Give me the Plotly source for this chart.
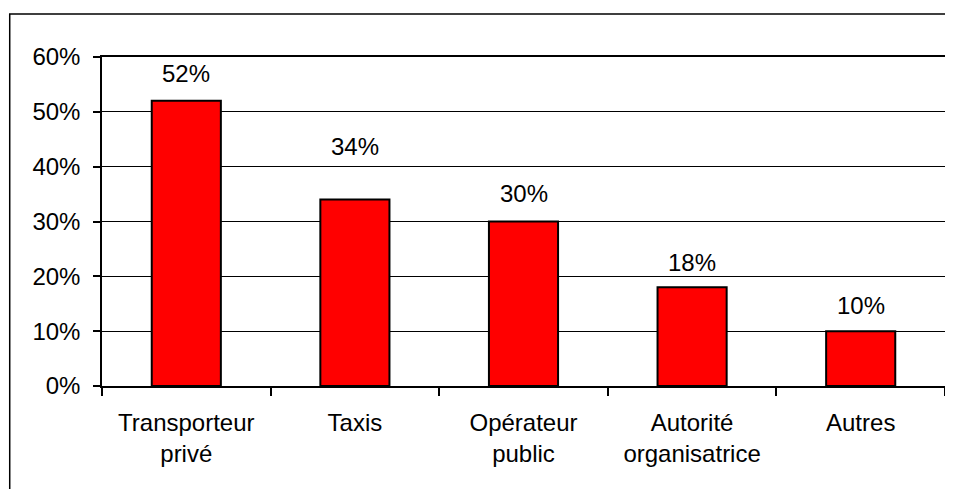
import plotly.graph_objects as go

categories = ["Transporteur<br>privé", "Taxis", "Opérateur<br>public", "Autorité<br>organisatrice", "Autres"]
values = [0.52, 0.34, 0.30, 0.18, 0.10]
value_labels = ["52%", "34%", "30%", "18%", "10%"]
y_tickvals = [0, 0.1, 0.2, 0.3, 0.4, 0.5, 0.6]
y_ticktext = ["0%", "10%", "20%", "30%", "40%", "50%", "60%"]

FONT = "Liberation Sans, Arial, sans-serif"
FS = 24

# vertical offset (px) of each value label above its bar top
label_shift = [27, 53, 28, 25, 26]

fig = go.Figure()
fig.add_trace(go.Bar(
    x=categories, y=values,
    marker=dict(color="#FF0000", line=dict(color="#000000", width=2)),
    hoverinfo="skip",
))

for c, v, t, s in zip(categories, values, value_labels, label_shift):
    fig.add_annotation(x=c, y=v, text=t, showarrow=False, xref="x", yref="y",
                       yanchor="middle", yshift=s,
                       font=dict(family=FONT, size=FS, color="#000000"))

# page body has an 8px margin, so the figure is sized to fill the window exactly
W, H = 945, 481
L, R, T, B = 94, 6, 49, 103
pw, ph = W - L - R, H - T - B

def px_to_paper_x(px):
    return (px - L) / pw

def px_to_paper_y(py):
    return (H - B - py) / ph

fig.add_shape(type="rect", xref="paper", yref="paper",
              x0=px_to_paper_x(1.5), x1=px_to_paper_x(980),
              y0=px_to_paper_y(520), y1=px_to_paper_y(6),
              line=dict(color="#000000", width=1.5), fillcolor="rgba(0,0,0,0)", layer="below")

fig.update_layout(
    width=W, height=H,
    margin=dict(l=L, r=R, t=T, b=B),
    paper_bgcolor="white", plot_bgcolor="white",
    showlegend=False,
    bargap=0.59,
    font=dict(family=FONT, size=FS, color="#000000"),
    xaxis=dict(
        type="category",
        showline=True, linecolor="#000000", linewidth=1.5, mirror=True,
        ticks="outside", ticklen=8, tickcolor="#000000", tickwidth=1.5,
        tickson="boundaries",
        showgrid=False,
        tickfont=dict(family=FONT, size=FS, color="#000000"),
        ticklabelstandoff=14,
    ),
    yaxis=dict(
        range=[0, 0.6],
        tickvals=y_tickvals, ticktext=y_ticktext,
        showline=True, linecolor="#000000", linewidth=1.5, mirror=True,
        ticks="outside", ticklen=7, tickcolor="#000000", tickwidth=1.5,
        showgrid=True, gridcolor="#000000", gridwidth=1.2,
        zeroline=False,
        tickfont=dict(family=FONT, size=FS, color="#000000"),
        ticklabelstandoff=8,
    ),
)

fig.write_html("out.html", config={"displayModeBar": False})
